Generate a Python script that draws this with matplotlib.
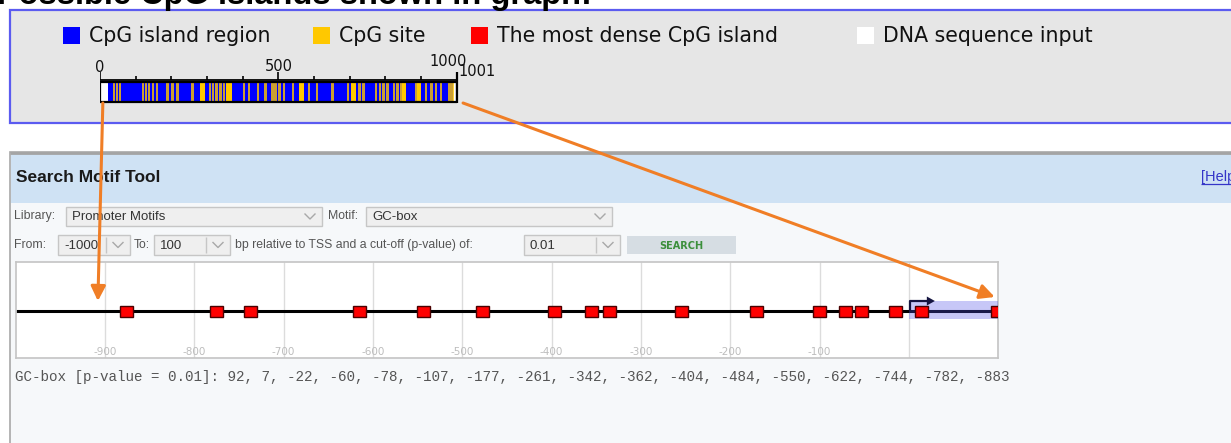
import matplotlib
matplotlib.use("Agg")
import matplotlib.pyplot as plt
from matplotlib.patches import Rectangle, Polygon, ConnectionPatch

W, H = 1231, 443

# ---------------- data ----------------
title = "Possible CpG islands shown in graph:"
legend_labels = ["CpG island region", "CpG site", "The most dense CpG island", "DNA sequence input"]
legend_colors = ["#0000ff", "#ffc800", "#ff0000", "#ffffff"]

seq_length = 1001
island_start, island_end = 22, 990
cpg_sites = [36, 45, 52, 117, 125, 134, 146, 156, 186, 200, 214, 256, 306, 314, 323,
             335, 345, 400, 414, 440, 461, 480, 489, 500, 513, 537, 583, 606, 649,
             692, 724, 736, 770, 781, 792, 803, 821, 831, 841, 883, 911, 926, 939,
             953, 977, 985]
cpg_dense_runs = [(281, 295), (352, 370), (558, 572), (703, 717), (848, 857), (890, 900)]
scale_minor = list(range(0, 1001, 100))
scale_major = [0, 500, 1000]

library_name = "Promoter Motifs"
motif_name = "GC-box"
from_bp = "-1000"
to_bp = "100"
p_value = "0.01"

track_min, track_max = -1000, 100
grid_positions = list(range(-900, 1, 100))
grid_labels = list(range(-900, 0, 100))
motif_positions = [92, 7, -22, -60, -78, -107, -177, -261, -342, -362, -404,
                   -484, -550, -622, -744, -782, -883]

# ---------------- figure ----------------
fig = plt.figure(figsize=(W / 100, H / 100), dpi=100)
fig.patch.set_facecolor("white")
base = fig.add_axes([0, 0, 1, 1])
base.set_xlim(0, W)
base.set_ylim(H, 0)
base.axis("off")


def rect(ax, x0, y0, x1, y1, fc, ec="none", lw=0, z=1, **kw):
    p = Rectangle((x0, y0), x1 - x0, y1 - y0, facecolor=fc, edgecolor=ec,
                  linewidth=lw, zorder=z, **kw)
    ax.add_patch(p)
    return p


def px_axes(x0, y0, x1, y1):
    return fig.add_axes([x0 / W, 1 - y1 / H, (x1 - x0) / W, (y1 - y0) / H])


# title (cut off at top, as in the screenshot)
base.text(-3, 3.5, title, fontsize=23.5, fontweight="bold", family="Liberation Sans",
          va="baseline", ha="left", color="black")

# top panel
rect(base, 10, 10, 1245, 123, "#e6e6e6", "#5b5bf0", 1.6, z=2)

leg_sq_x = [63, 313, 471, 857]
for x, lab, col in zip(leg_sq_x, legend_labels, legend_colors):
    rect(base, x, 27, x + 17, 44, col, z=3)
    base.text(x + 26, 36, lab, fontsize=14.8, family="DejaVu Sans", va="center",
              ha="left", color="#111111", zorder=3)

# CpG bar with its scale: x in bp, y in pixels
bar = px_axes(100, 55, 457, 106)
bar.set_xlim(0, seq_length)
bar.set_ylim(106, 55)
bar.axis("off")
bar.patch.set_alpha(0)
bar.hlines(79.5, 0, seq_length, color="black", lw=1.3)
for t in scale_minor:
    top = 72 if t in scale_major else 76
    bar.vlines(t, top, 79.5, color="black", lw=1.2)
bar.vlines(seq_length, 72, 103, color="black", lw=1.6, clip_on=False)
bar.text(0, 68, "0", fontsize=10.5, ha="center", va="center", color="#111")
bar.text(500, 66.5, "500", fontsize=10.5, ha="center", va="center", color="#111")
bar.text(975, 61, "1000", fontsize=10.5, ha="center", va="center", color="#111")
bar.text(seq_length + 4, 72, "1001", fontsize=10.5, ha="left", va="center",
         color="#111", clip_on=False)
rect(bar, 0, 82, seq_length, 102, "white", z=1)
rect(bar, island_start, 82, island_end, 102, legend_colors[0], z=2)
for s in cpg_sites:
    rect(bar, s, 82, s + 6.5, 102, legend_colors[1], z=3, alpha=0.8)
for a, b in cpg_dense_runs:
    rect(bar, a, 82, b, 102, legend_colors[1], z=3)
rect(bar, 0, 82, seq_length, 102, "none", "black", 1.6, z=4)

# search motif panel
rect(base, 10, 152, 1245, 450, "#f6f8fa", "#a8a8a8", 1.2, z=1)
rect(base, 11, 153, 1245, 203, "#cfe2f4", z=2)
base.hlines(152.5, 10, W, color="#a4a4a4", lw=2, zorder=3)
base.text(16, 178, "Search Motif Tool", fontsize=12.5, fontweight="bold",
          family="Liberation Sans", va="center", ha="left", color="#1a1a1a", zorder=4)
base.text(1201, 177, "[Help]", fontsize=10.5, family="Liberation Sans",
          va="center", ha="left", color="#3535c8", zorder=4)
base.hlines(184, 1201, W, color="#3535c8", lw=0.9, zorder=4)

lab_kw = dict(fontsize=8.8, family="Liberation Sans", va="center", ha="left",
              color="#555555", zorder=4)
val_kw = dict(fontsize=9.5, family="Liberation Sans", va="center", ha="left",
              color="#333333", zorder=5)


def dropdown(x0, y0, x1, y1, text, divider=False):
    rect(base, x0, y0, x1, y1, "#efefef", "#c6c6c6", 1.0, z=4)
    ym = (y0 + y1) / 2
    base.text(x0 + 6, ym + 0.5, text, **val_kw)
    cx = x1 - 12
    base.plot([cx - 5, cx, cx + 5], [ym - 2.5, ym + 2.5, ym - 2.5], color="#a8a8a8",
              lw=1, zorder=5)
    if divider:
        base.vlines(x1 - 24, y0 + 2, y1 - 2, color="#c6c6c6", lw=1, zorder=5)


base.text(14, 216, "Library:", **lab_kw)
dropdown(66, 207, 322, 226, library_name)
base.text(328, 216, "Motif:", **lab_kw)
dropdown(366, 207, 612, 226, motif_name)

base.text(14, 245, "From:", **lab_kw)
dropdown(58, 235, 130, 255, from_bp, divider=True)
base.text(134, 245, "To:", **lab_kw)
dropdown(154, 235, 230, 255, to_bp, divider=True)
base.text(235, 245, "bp relative to TSS and a cut-off (p-value) of:", **lab_kw)
dropdown(524, 235, 620, 255, p_value, divider=True)
rect(base, 627, 236, 736, 254, "#d6dde3", z=4)
base.text(681.5, 245.5, "SEARCH", fontsize=7, fontweight="bold", family="DejaVu Sans",
          va="center", ha="center", color="#3b8f3b", zorder=5)

# motif track: x in bp relative to TSS, y in pixels
trk = px_axes(15.7, 262, 998.3, 358)
trk.set_xlim(track_min, track_max)
trk.set_ylim(358, 262)
trk.set_xticks([])
trk.set_yticks([])
trk.set_facecolor("white")
for sp in trk.spines.values():
    sp.set_color("#c4c4c4")
    sp.set_linewidth(1.2)
trk.vlines(grid_positions, 262, 358, color="#dcdcdc", lw=1, zorder=1)
for g in grid_labels:
    trk.text(g, 352, str(g), fontsize=7.5, ha="center", va="center",
             color="#bdbdbd", family="DejaVu Sans")
trk.hlines(310.5, track_min, track_max, color="black", lw=2.2, zorder=2)
trk.add_patch(Rectangle((0, 301), track_max, 18, facecolor="#5151e9", alpha=0.32,
                        edgecolor="none", zorder=3))
for p in motif_positions:
    trk.add_patch(Rectangle((p - 0.5, 305.5), 14.5, 11, facecolor="#ff0000",
                            edgecolor="#4a0000", linewidth=1, zorder=4))
trk.plot([1.5, 1.5, 22], [310, 301, 301], color="#151540", lw=1.6, zorder=5)
trk.add_patch(Polygon([[20, 296.5], [29, 301], [20, 305.5]], closed=True,
                      facecolor="#151540", edgecolor="none", zorder=5))

# result line
result = "{} [p-value = {}]: {}".format(motif_name, p_value,
                                        ", ".join(str(v) for v in motif_positions))
base.text(15, 377.5, result, fontsize=10.3, family="Liberation Mono", va="center",
          ha="left", color="#555555", zorder=4)

# orange connector arrows (bar ends -> track)
arrow_kw = dict(arrowstyle="-|>", mutation_scale=22, color="#f07e26", lw=2.2,
                shrinkA=0, shrinkB=0)
c1 = ConnectionPatch(xyA=(8, 103), coordsA=bar.transData,
                     xyB=(-908, 301), coordsB=trk.transData, **arrow_kw)
c2 = ConnectionPatch(xyA=(1018, 103), coordsA=bar.transData,
                     xyB=(96, 297), coordsB=trk.transData, **arrow_kw)
c1.set_zorder(10)
c2.set_zorder(10)
fig.add_artist(c1)
fig.add_artist(c2)

fig.savefig("out.png", dpi=100)
